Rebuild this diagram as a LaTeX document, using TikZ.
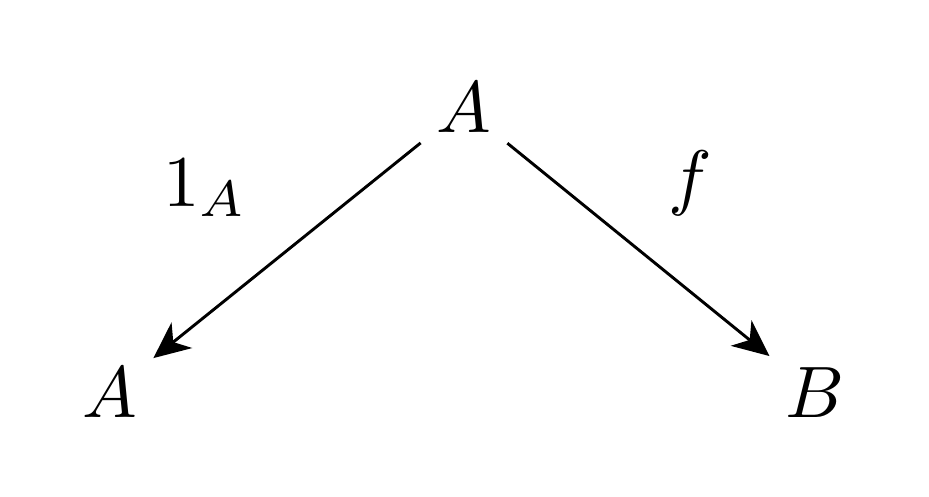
\documentclass[tikz,border=0pt]{standalone}
\usetikzlibrary{arrows.meta}
\tikzset{obj/.style={inner sep=2pt}, mor/.style={draw,-{Stealth[length=5pt,width=4.5pt,inset=1.5pt]}}}
\begin{document}
\begin{tikzpicture}[x=0.0482mm,y=-0.0482mm]
  \useasboundingbox (0,0) rectangle (929,496);
  % objects
  \node[obj] (top) at (464,108) {$A$};
  \node[obj] (left) at (110,393) {$A$};
  \node[obj] (right) at (815,393) {$B$};
  % labels
  \node (lid) at (205,188) {$1_A$};
  \node (lf) at (690,183) {$f$};
  % morphisms
  \path[mor] (top) -- (left);
  \path[mor] (top) -- (right);
\end{tikzpicture}
\end{document}
